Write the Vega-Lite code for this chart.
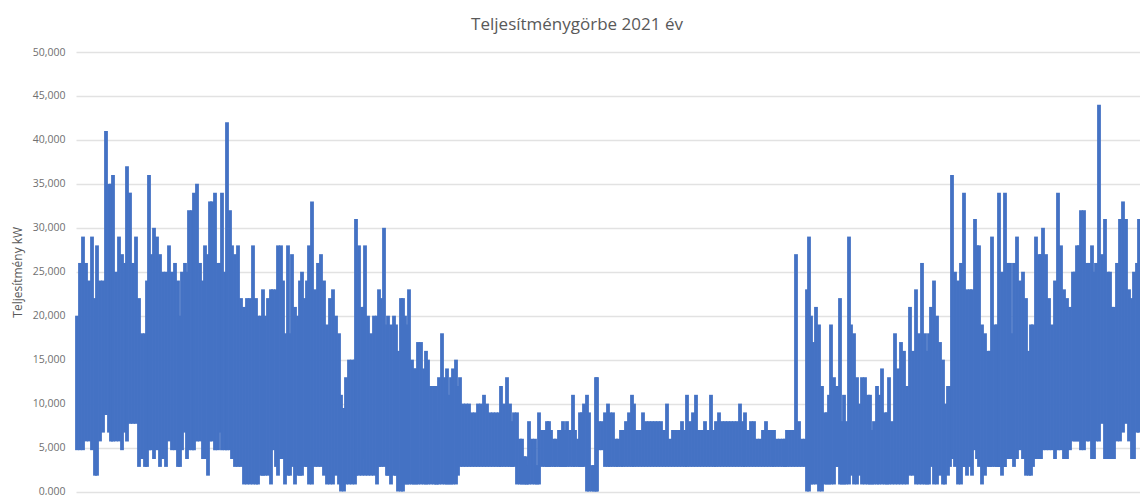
{"$schema":"https://vega.github.io/schema/vega-lite/v6.json","width":1064,"height":439.5,"autosize":{"type":"none"},"padding":{"left":76,"top":52,"right":0,"bottom":3.5},"background":"white",
"title":{"text":"Teljesítménygörbe  2021 év","fontSize":17,"font":"Open Sans","fontWeight":"normal","color":"#595959","anchor":"middle","dx":-31,"offset":13},
"data":{"values":[
{"t":1,"hi":20000,"lo":4700},{"t":4,"hi":26000,"lo":4700},{"t":7,"hi":29000,"lo":4700},{"t":10,"hi":26000,"lo":5700},{"t":13,"hi":24000,"lo":5700},{"t":16,"hi":29000,"lo":4700},{"t":19,"hi":22000,"lo":1800},{"t":21,"hi":28000,"lo":1800},{"t":24,"hi":24000,"lo":5700},{"t":27,"hi":24000,"lo":6700},{"t":30,"hi":41000,"lo":8700},{"t":33,"hi":35000,"lo":6700},{"t":35,"hi":35000,"lo":5700},{"t":37,"hi":36000,"lo":5700},{"t":40,"hi":25000,"lo":5700},{"t":43,"hi":29000,"lo":5700},{"t":46,"hi":27000,"lo":4700},{"t":49,"hi":26000,"lo":6700},{"t":51,"hi":37000,"lo":5700},{"t":54,"hi":34000,"lo":7700},{"t":57,"hi":26000,"lo":7700},{"t":60,"hi":29000,"lo":7700},{"t":63,"hi":22000,"lo":2800},{"t":66,"hi":18000,"lo":3700},{"t":69,"hi":18000,"lo":2800},{"t":71,"hi":24000,"lo":2800},{"t":73,"hi":36000,"lo":4700},{"t":75,"hi":27000,"lo":4700},{"t":78,"hi":30000,"lo":3700},{"t":81,"hi":29000,"lo":4700},{"t":84,"hi":27000,"lo":2800},{"t":87,"hi":25000,"lo":3700},{"t":90,"hi":25000,"lo":2800},{"t":93,"hi":28000,"lo":5700},{"t":96,"hi":25000,"lo":4700},{"t":99,"hi":26000,"lo":4700},{"t":102,"hi":24000,"lo":2800},{"t":104,"hi":20000,"lo":2800},{"t":106,"hi":25000,"lo":4700},{"t":109,"hi":26000,"lo":6700},{"t":111,"hi":25000,"lo":3700},{"t":113,"hi":32000,"lo":4700},{"t":116,"hi":32000,"lo":4700},{"t":118,"hi":34000,"lo":4700},{"t":121,"hi":35000,"lo":5700},{"t":124,"hi":26000,"lo":5700},{"t":127,"hi":24000,"lo":3700},{"t":129,"hi":28000,"lo":3700},{"t":132,"hi":27000,"lo":1800},{"t":134,"hi":33000,"lo":5700},{"t":136,"hi":33000,"lo":5700},{"t":139,"hi":34000,"lo":4700},{"t":142,"hi":26000,"lo":4700},{"t":144,"hi":26000,"lo":6700},{"t":146,"hi":34000,"lo":4700},{"t":149,"hi":25000,"lo":4700},{"t":151,"hi":42000,"lo":4700},{"t":154,"hi":32000,"lo":4700},{"t":156,"hi":28000,"lo":3700},{"t":159,"hi":27000,"lo":2800},{"t":162,"hi":28000,"lo":2800},{"t":165,"hi":22000,"lo":2800},{"t":168,"hi":21000,"lo":800},{"t":171,"hi":22000,"lo":800},{"t":174,"hi":22000,"lo":800},{"t":177,"hi":28000,"lo":800},{"t":180,"hi":22000,"lo":800},{"t":182,"hi":20000,"lo":800},{"t":185,"hi":20000,"lo":1800},{"t":187,"hi":23000,"lo":1800},{"t":189,"hi":20000,"lo":1800},{"t":192,"hi":22000,"lo":1800},{"t":195,"hi":23000,"lo":800},{"t":197,"hi":23000,"lo":4700},{"t":200,"hi":23000,"lo":2800},{"t":202,"hi":28000,"lo":1800},{"t":205,"hi":28000,"lo":3700},{"t":207,"hi":24000,"lo":3700},{"t":209,"hi":18000,"lo":800},{"t":212,"hi":28000,"lo":1800},{"t":214,"hi":18000,"lo":1800},{"t":216,"hi":27000,"lo":2800},{"t":219,"hi":21000,"lo":800},{"t":222,"hi":20000,"lo":1800},{"t":224,"hi":24000,"lo":1800},{"t":226,"hi":25000,"lo":1800},{"t":229,"hi":22000,"lo":2800},{"t":231,"hi":24000,"lo":2800},{"t":233,"hi":28000,"lo":800},{"t":236,"hi":33000,"lo":800},{"t":239,"hi":23000,"lo":2800},{"t":242,"hi":26000,"lo":2800},{"t":245,"hi":27000,"lo":2800},{"t":248,"hi":24000,"lo":1800},{"t":251,"hi":19000,"lo":800},{"t":254,"hi":22000,"lo":800},{"t":257,"hi":23000,"lo":800},{"t":260,"hi":20000,"lo":1800},{"t":263,"hi":18000,"lo":800},{"t":265,"hi":11000,"lo":0},{"t":268,"hi":9500,"lo":0},{"t":270,"hi":13000,"lo":800},{"t":273,"hi":15000,"lo":800},{"t":276,"hi":15000,"lo":800},{"t":279,"hi":15000,"lo":800},{"t":280,"hi":31000,"lo":1800},{"t":283,"hi":28000,"lo":1800},{"t":286,"hi":21000,"lo":1800},{"t":288,"hi":21000,"lo":3700},{"t":289,"hi":28000,"lo":1800},{"t":292,"hi":20000,"lo":1800},{"t":295,"hi":18000,"lo":1800},{"t":298,"hi":20000,"lo":1800},{"t":301,"hi":20000,"lo":800},{"t":303,"hi":23000,"lo":2800},{"t":305,"hi":22000,"lo":2800},{"t":308,"hi":30000,"lo":2800},{"t":311,"hi":19000,"lo":1800},{"t":312,"hi":20000,"lo":1800},{"t":315,"hi":19000,"lo":800},{"t":318,"hi":20000,"lo":1800},{"t":320,"hi":19000,"lo":1800},{"t":322,"hi":16000,"lo":0},{"t":325,"hi":22000,"lo":0},{"t":327,"hi":22000,"lo":0},{"t":329,"hi":20000,"lo":800},{"t":331,"hi":19000,"lo":800},{"t":333,"hi":23000,"lo":800},{"t":336,"hi":15000,"lo":800},{"t":338,"hi":14000,"lo":800},{"t":340,"hi":14000,"lo":800},{"t":342,"hi":17000,"lo":800},{"t":345,"hi":17000,"lo":800},{"t":348,"hi":14000,"lo":800},{"t":350,"hi":16000,"lo":800},{"t":352,"hi":15000,"lo":800},{"t":355,"hi":12000,"lo":800},{"t":358,"hi":12000,"lo":800},{"t":360,"hi":12000,"lo":800},{"t":361,"hi":8000,"lo":800},{"t":363,"hi":13000,"lo":800},{"t":366,"hi":18000,"lo":800},{"t":369,"hi":13000,"lo":800},{"t":371,"hi":14000,"lo":800},{"t":373,"hi":11000,"lo":800},{"t":375,"hi":13000,"lo":800},{"t":377,"hi":14000,"lo":800},{"t":380,"hi":15000,"lo":800},{"t":382,"hi":12000,"lo":1800},{"t":384,"hi":13000,"lo":2800},{"t":387,"hi":10000,"lo":2800},{"t":390,"hi":10000,"lo":2800},{"t":393,"hi":10000,"lo":2800},{"t":396,"hi":9000,"lo":2800},{"t":399,"hi":9000,"lo":2800},{"t":402,"hi":10000,"lo":2800},{"t":405,"hi":10000,"lo":2800},{"t":408,"hi":11000,"lo":2800},{"t":411,"hi":10000,"lo":2800},{"t":414,"hi":9000,"lo":2800},{"t":417,"hi":9000,"lo":2800},{"t":420,"hi":9000,"lo":2800},{"t":423,"hi":9000,"lo":2800},{"t":425,"hi":12000,"lo":2800},{"t":428,"hi":10000,"lo":2800},{"t":431,"hi":13000,"lo":2800},{"t":434,"hi":10000,"lo":2800},{"t":436,"hi":8000,"lo":2800},{"t":438,"hi":9000,"lo":2800},{"t":441,"hi":9000,"lo":800},{"t":444,"hi":6000,"lo":800},{"t":446,"hi":6000,"lo":800},{"t":448,"hi":4000,"lo":800},{"t":450,"hi":4000,"lo":800},{"t":451,"hi":3000,"lo":800},{"t":453,"hi":8000,"lo":800},{"t":456,"hi":6000,"lo":800},{"t":459,"hi":6000,"lo":800},{"t":461,"hi":3000,"lo":800},{"t":463,"hi":9000,"lo":800},{"t":466,"hi":7000,"lo":2800},{"t":469,"hi":7000,"lo":2800},{"t":471,"hi":8000,"lo":2800},{"t":473,"hi":8000,"lo":2800},{"t":475,"hi":7000,"lo":2800},{"t":478,"hi":6000,"lo":2800},{"t":480,"hi":6000,"lo":2800},{"t":483,"hi":7000,"lo":2800},{"t":485,"hi":7000,"lo":2800},{"t":487,"hi":8000,"lo":2800},{"t":489,"hi":7000,"lo":2800},{"t":491,"hi":8000,"lo":2800},{"t":494,"hi":7000,"lo":2800},{"t":497,"hi":11000,"lo":2800},{"t":499,"hi":7000,"lo":2800},{"t":502,"hi":6000,"lo":2800},{"t":504,"hi":9000,"lo":2800},{"t":506,"hi":9000,"lo":2800},{"t":508,"hi":10000,"lo":2800},{"t":511,"hi":11000,"lo":0},{"t":513,"hi":9000,"lo":0},{"t":516,"hi":3000,"lo":0},{"t":518,"hi":3000,"lo":0},{"t":520,"hi":13000,"lo":0},{"t":521,"hi":13000,"lo":0},{"t":523,"hi":8000,"lo":4700},{"t":526,"hi":8000,"lo":4700},{"t":529,"hi":9000,"lo":2800},{"t":532,"hi":10000,"lo":2800},{"t":534,"hi":9000,"lo":2800},{"t":537,"hi":9000,"lo":2800},{"t":540,"hi":6000,"lo":2800},{"t":542,"hi":6000,"lo":2800},{"t":545,"hi":7000,"lo":2800},{"t":547,"hi":7000,"lo":2800},{"t":550,"hi":8000,"lo":2800},{"t":553,"hi":9000,"lo":2800},{"t":556,"hi":11000,"lo":2800},{"t":558,"hi":10000,"lo":2800},{"t":561,"hi":7000,"lo":2800},{"t":564,"hi":7000,"lo":2800},{"t":567,"hi":9000,"lo":2800},{"t":570,"hi":8000,"lo":2800},{"t":573,"hi":8000,"lo":2800},{"t":576,"hi":8000,"lo":2800},{"t":579,"hi":8000,"lo":2800},{"t":582,"hi":8000,"lo":2800},{"t":585,"hi":8000,"lo":2800},{"t":588,"hi":7000,"lo":2800},{"t":591,"hi":10000,"lo":2800},{"t":594,"hi":6000,"lo":2800},{"t":597,"hi":7000,"lo":2800},{"t":600,"hi":7000,"lo":2800},{"t":603,"hi":7000,"lo":2800},{"t":606,"hi":8000,"lo":2800},{"t":609,"hi":7000,"lo":2800},{"t":611,"hi":11000,"lo":2800},{"t":614,"hi":8000,"lo":2800},{"t":617,"hi":9000,"lo":2800},{"t":620,"hi":11000,"lo":2800},{"t":623,"hi":7000,"lo":2800},{"t":626,"hi":7000,"lo":2800},{"t":629,"hi":8000,"lo":2800},{"t":632,"hi":7000,"lo":2800},{"t":635,"hi":11000,"lo":2800},{"t":638,"hi":7000,"lo":2800},{"t":640,"hi":8000,"lo":2800},{"t":643,"hi":9000,"lo":2800},{"t":646,"hi":8000,"lo":2800},{"t":649,"hi":8000,"lo":2800},{"t":652,"hi":8000,"lo":2800},{"t":655,"hi":8000,"lo":2800},{"t":658,"hi":8000,"lo":2800},{"t":661,"hi":8000,"lo":2800},{"t":664,"hi":10000,"lo":2800},{"t":667,"hi":8000,"lo":2800},{"t":669,"hi":9000,"lo":2800},{"t":672,"hi":7000,"lo":2800},{"t":675,"hi":8000,"lo":2800},{"t":678,"hi":8000,"lo":2800},{"t":681,"hi":6000,"lo":2800},{"t":684,"hi":6000,"lo":2800},{"t":687,"hi":7000,"lo":2800},{"t":690,"hi":8000,"lo":2800},{"t":693,"hi":7000,"lo":2800},{"t":696,"hi":7000,"lo":2800},{"t":698,"hi":7000,"lo":2800},{"t":701,"hi":6000,"lo":2800},{"t":704,"hi":6000,"lo":2800},{"t":707,"hi":6000,"lo":2800},{"t":709,"hi":6000,"lo":2800},{"t":711,"hi":7000,"lo":2800},{"t":714,"hi":7000,"lo":2800},{"t":717,"hi":7000,"lo":2800},{"t":720,"hi":27000,"lo":2800},{"t":723,"hi":8000,"lo":2800},{"t":726,"hi":6000,"lo":2800},{"t":729,"hi":6000,"lo":2800},{"t":731,"hi":23000,"lo":0},{"t":733,"hi":29000,"lo":0},{"t":735,"hi":20000,"lo":800},{"t":737,"hi":17000,"lo":800},{"t":740,"hi":21000,"lo":800},{"t":743,"hi":19000,"lo":0},{"t":746,"hi":12000,"lo":0},{"t":749,"hi":9000,"lo":800},{"t":751,"hi":9000,"lo":800},{"t":753,"hi":11000,"lo":800},{"t":755,"hi":19000,"lo":800},{"t":758,"hi":13000,"lo":800},{"t":760,"hi":12000,"lo":2800},{"t":762,"hi":12000,"lo":2800},{"t":764,"hi":22000,"lo":800},{"t":766,"hi":8000,"lo":800},{"t":768,"hi":11000,"lo":800},{"t":770,"hi":8000,"lo":800},{"t":773,"hi":29000,"lo":800},{"t":775,"hi":19000,"lo":1800},{"t":778,"hi":18000,"lo":800},{"t":781,"hi":13000,"lo":800},{"t":784,"hi":10000,"lo":1800},{"t":786,"hi":13000,"lo":800},{"t":789,"hi":13000,"lo":800},{"t":792,"hi":11000,"lo":800},{"t":794,"hi":11000,"lo":800},{"t":796,"hi":7000,"lo":800},{"t":798,"hi":8000,"lo":800},{"t":801,"hi":12000,"lo":800},{"t":803,"hi":11000,"lo":800},{"t":806,"hi":14000,"lo":800},{"t":809,"hi":9000,"lo":800},{"t":811,"hi":9000,"lo":800},{"t":813,"hi":13000,"lo":800},{"t":816,"hi":8000,"lo":800},{"t":819,"hi":18000,"lo":800},{"t":822,"hi":14000,"lo":800},{"t":825,"hi":17000,"lo":800},{"t":828,"hi":16000,"lo":800},{"t":831,"hi":12000,"lo":800},{"t":834,"hi":21000,"lo":1800},{"t":837,"hi":16000,"lo":1800},{"t":840,"hi":23000,"lo":800},{"t":843,"hi":18000,"lo":800},{"t":846,"hi":26000,"lo":800},{"t":849,"hi":18000,"lo":800},{"t":851,"hi":16000,"lo":800},{"t":853,"hi":18000,"lo":800},{"t":855,"hi":21000,"lo":2800},{"t":858,"hi":24000,"lo":800},{"t":861,"hi":20000,"lo":800},{"t":864,"hi":17000,"lo":1800},{"t":867,"hi":15000,"lo":800},{"t":869,"hi":10000,"lo":800},{"t":872,"hi":12000,"lo":1800},{"t":874,"hi":12000,"lo":2800},{"t":876,"hi":36000,"lo":3700},{"t":879,"hi":25000,"lo":2800},{"t":882,"hi":24000,"lo":800},{"t":885,"hi":26000,"lo":800},{"t":888,"hi":34000,"lo":2800},{"t":891,"hi":23000,"lo":1800},{"t":894,"hi":23000,"lo":2800},{"t":896,"hi":23000,"lo":1800},{"t":899,"hi":31000,"lo":4700},{"t":901,"hi":28000,"lo":3700},{"t":903,"hi":28000,"lo":2800},{"t":906,"hi":19000,"lo":800},{"t":909,"hi":18000,"lo":1800},{"t":912,"hi":16000,"lo":2800},{"t":914,"hi":16000,"lo":2800},{"t":916,"hi":29000,"lo":2800},{"t":919,"hi":19000,"lo":2800},{"t":921,"hi":19000,"lo":2800},{"t":923,"hi":34000,"lo":2800},{"t":926,"hi":25000,"lo":1800},{"t":929,"hi":34000,"lo":2800},{"t":932,"hi":26000,"lo":3700},{"t":934,"hi":26000,"lo":3700},{"t":936,"hi":18000,"lo":3700},{"t":938,"hi":26000,"lo":2800},{"t":941,"hi":29000,"lo":3700},{"t":944,"hi":24000,"lo":4700},{"t":947,"hi":25000,"lo":3700},{"t":950,"hi":22000,"lo":1800},{"t":953,"hi":16000,"lo":1800},{"t":955,"hi":19000,"lo":1800},{"t":957,"hi":19000,"lo":2800},{"t":960,"hi":29000,"lo":3700},{"t":963,"hi":27000,"lo":3700},{"t":965,"hi":27000,"lo":3700},{"t":967,"hi":30000,"lo":4700},{"t":970,"hi":27000,"lo":4700},{"t":973,"hi":22000,"lo":4700},{"t":976,"hi":19000,"lo":4700},{"t":979,"hi":24000,"lo":3700},{"t":982,"hi":34000,"lo":4700},{"t":985,"hi":28000,"lo":4700},{"t":988,"hi":23000,"lo":3700},{"t":991,"hi":22000,"lo":3700},{"t":994,"hi":21000,"lo":4700},{"t":997,"hi":25000,"lo":5700},{"t":999,"hi":25000,"lo":5700},{"t":1001,"hi":28000,"lo":5700},{"t":1003,"hi":28000,"lo":5700},{"t":1005,"hi":32000,"lo":4700},{"t":1008,"hi":32000,"lo":4700},{"t":1011,"hi":26000,"lo":5700},{"t":1013,"hi":26000,"lo":5700},{"t":1016,"hi":28000,"lo":3700},{"t":1018,"hi":25000,"lo":3700},{"t":1020,"hi":26000,"lo":5700},{"t":1023,"hi":44000,"lo":5700},{"t":1026,"hi":27000,"lo":7700},{"t":1029,"hi":31000,"lo":3700},{"t":1032,"hi":25000,"lo":3700},{"t":1034,"hi":25000,"lo":3700},{"t":1036,"hi":21000,"lo":3700},{"t":1038,"hi":21000,"lo":3700},{"t":1041,"hi":26000,"lo":5700},{"t":1044,"hi":31000,"lo":5700},{"t":1047,"hi":33000,"lo":6700},{"t":1050,"hi":31000,"lo":7700},{"t":1053,"hi":23000,"lo":5700},{"t":1056,"hi":22000,"lo":3700},{"t":1058,"hi":25000,"lo":3700},{"t":1061,"hi":26000,"lo":6700},{"t":1063,"hi":31000,"lo":6700}
]},
"mark":{"type":"rule","color":"#4472C4","strokeWidth":3.8,"opacity":1,"strokeOpacity":1,"clip":false},
"encoding":{
"x":{"field":"t","type":"quantitative","scale":{"domain":[0,1064],"nice":false,"zero":false},"axis":null},
"y":{"field":"hi","type":"quantitative","scale":{"domain":[0,50000],"nice":false},"axis":{"title":"Teljesítmény kW","titleFont":"Open Sans","titleFontSize":12,"titleFontWeight":"normal","titleColor":"#595959","titlePadding":8,"values":[0,5000,10000,15000,20000,25000,30000,35000,40000,45000,50000],"labelExpr":"datum.value==0?'0,000':format(datum.value,',')","labelFont":"Open Sans","labelFontSize":10.5,"labelColor":"#707070","labelPadding":11,"domain":false,"ticks":false,"grid":true,"gridColor":"#e2e2e2","gridWidth":1.3}},
"y2":{"field":"lo"}
},
"config":{"view":{"stroke":null}}}
